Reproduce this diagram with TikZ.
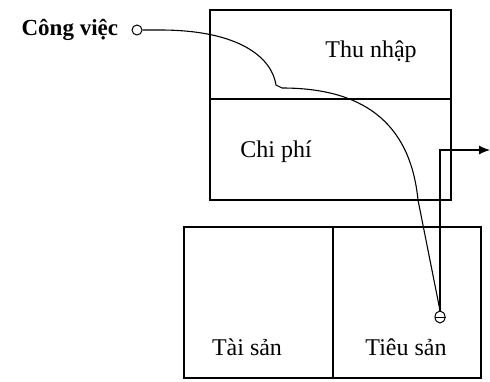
\documentclass[tikz,border=0pt]{standalone}
\usepackage{fontspec}
\setmainfont{Liberation Serif}
\usepackage{tikz}
\usetikzlibrary{shapes.geometric, arrows.meta}

\begin{document}
\begin{tikzpicture}[x=1pt, y=-1pt, line width=1.2pt,
    lbl/.style={font=\fontsize{24}{28}\selectfont},
    pin/.style={circle, draw, line width=1pt, inner sep=0pt, minimum size=10pt}]
\useasboundingbox (0,0) rectangle (490,381);
% upper box: thu nhap / chi phi
\draw (210,10) rectangle (451,200);
\draw (210,99) -- (451,99);
\node[lbl] (thu) at (371,52) {Thu nhập};
\node[lbl] (chi) at (276,152) {Chi phí};
% lower box: tai san / tieu san
\draw (184,227) rectangle (481,378);
\draw (333,227) -- (333,378);
\node[lbl] (tai) at (247,347) {Tài sản};
\node[lbl] (tieu) at (406,347) {Tiêu sản};
% work and outflow
\node[lbl, font=\fontsize{23}{27}\selectfont\bfseries, anchor=east] (job) at (122,30) {Công việc};
\node[pin] (cv) at (137,30) {};
\node[pin, ellipse, minimum width=10pt, minimum height=12pt] (ts) at (440,317) {};
\draw[line width=0.8pt] (ts.west) -- (ts.east);
\coordinate (out) at (490,150);
\draw[line width=1.1pt] (cv.east) -- (160,30) .. controls (240,30) and (272,58) .. (276,85) -- (282,88)
    .. controls (360,88) and (410,120) .. (418,200) -- (ts.north);
\draw[line width=1.1pt, -{Latex[length=11pt,width=9pt]}] (ts.north) -- (440,150) -- (out);
\end{tikzpicture}
\end{document}
